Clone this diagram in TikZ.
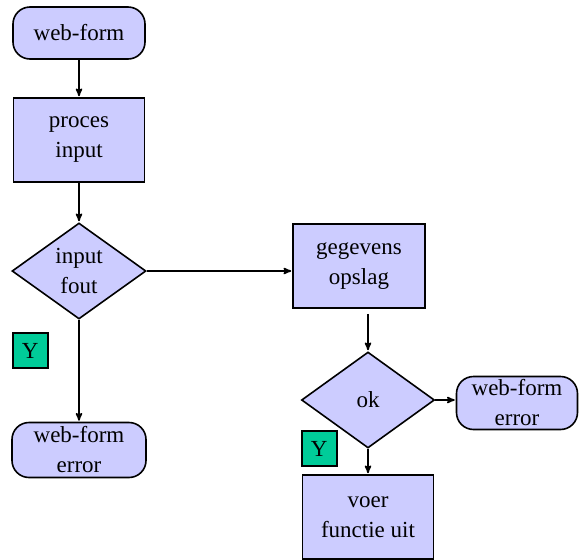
\documentclass[tikz,border=0pt]{standalone}
\usepackage{fontspec}
\setmainfont{Liberation Serif}
\usetikzlibrary{arrows,shapes}
\definecolor{lav}{RGB}{204,204,255}
\definecolor{grn}{RGB}{0,204,153}
\tikzstyle{term} = [rectangle, draw, fill=lav, rounded corners=17pt,
    minimum height=52pt, inner sep=0pt, align=center]
\tikzstyle{proc} = [rectangle, draw, fill=lav, minimum width=131pt,
    minimum height=84pt, inner sep=0pt, align=center]
\tikzstyle{dec} = [diamond, draw, fill=lav, minimum width=134pt,
    minimum height=96pt, inner sep=0pt, align=center]
\tikzstyle{yes} = [rectangle, draw, fill=grn, minimum size=35pt, inner sep=0pt]

\begin{document}
\begin{tikzpicture}[->,>=stealth',shorten >=1pt,x=1pt,y=1pt,line width=1.6pt,
                    font=\fontsize{23}{30}\selectfont]
  \useasboundingbox (0,0) rectangle (579,-560);

  \node[term,minimum width=132pt] (form)   at (79,-33) {web-form};
  \node[proc]  (proces) [below of=form,node distance=107pt] {proces\\input};
  \node[dec]   (fout)   [below of=proces,node distance=131pt] {input\\fout};
  \node[term,minimum width=134pt,minimum height=55pt] (err1)
        [below of=fout,node distance=179pt] {web-form\\error};
  \node[yes]   (y1)     [below left of=fout,node distance=1pt,xshift=-48pt,yshift=-79pt] {Y};

  \node[proc,minimum width=132pt] (opslag) [right of=fout,node distance=280pt,yshift=5pt] {gegevens\\opslag};
  \node[dec,minimum width=133pt] (ok) [below of=opslag,node distance=134pt,xshift=9pt] {ok};
  \node[term,minimum width=121pt,minimum height=53pt] (err2)
        [right of=ok,node distance=149pt,yshift=-3pt] {web-form\\error};
  \node[proc] (voer)    [below of=ok,node distance=116pt,yshift=-1pt] {voer\\functie uit};
  \node[yes]   (y2)     [below left of=ok,node distance=1pt,xshift=-48pt,yshift=-48pt] {Y};

  \draw (form) -- (proces);
  \draw (proces) -- (fout);
  \draw (fout) -- (err1);
  \draw (fout.east) -- (fout.east -| opslag.west);
  \draw (opslag.south -| ok.north) ++(0,-5) -- (ok.north);
  \draw (ok.east) -- (ok.east -| err2.west);
  \draw (ok) -- (voer);
\end{tikzpicture}
\end{document}
